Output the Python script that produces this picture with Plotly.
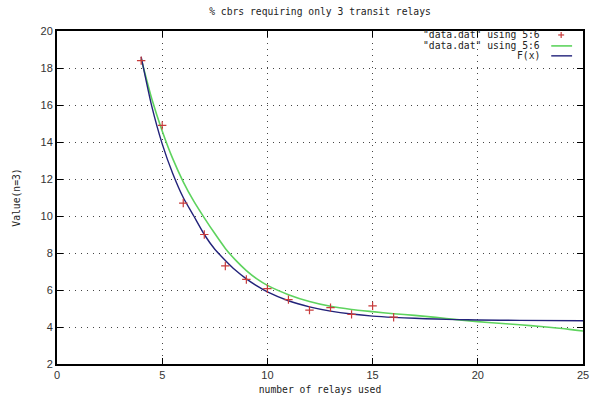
import plotly.graph_objects as go

# data points ("data.dat" using 5:6)
pts_x = [4, 5, 6, 7, 8, 9, 10, 11, 12, 13, 14, 15, 16]
pts_y = [18.4, 14.9, 10.7, 9.0, 7.3, 6.57, 6.07, 5.48, 4.91, 5.05, 4.68, 5.14, 4.53]

# smoothed curve (green)
green_x = [4, 4.5, 5, 5.5, 6, 6.5, 7, 7.5, 8, 8.5, 9, 9.5, 10, 11, 12, 13, 14, 15,
           16, 17, 18, 19, 20, 21, 22, 23, 24, 25]
green_y = [18.5, 16.35, 14.6, 13.1, 11.85, 10.8, 9.9, 9.05, 8.25, 7.6, 7.05, 6.6, 6.25,
           5.75, 5.38, 5.12, 4.95, 4.83, 4.72, 4.63, 4.52, 4.40, 4.29, 4.20, 4.12,
           4.03, 3.92, 3.78]

# fitted function F(x) (blue)
fx_x = [4, 4.5, 5, 5.5, 6, 6.5, 7, 7.5, 8, 8.5, 9, 9.5, 10, 11, 12, 13, 14, 15, 16,
        17, 18, 19, 20, 22, 25]
fx_y = [18.6, 15.95, 13.9, 12.3, 11.0, 10.0, 9.0, 8.2, 7.6, 7.05, 6.6, 6.22, 5.9,
        5.42, 5.09, 4.86, 4.70, 4.59, 4.52, 4.47, 4.43, 4.40, 4.38, 4.36, 4.34]

x_ticks = [0, 5, 10, 15, 20, 25]
y_ticks = [2, 4, 6, 8, 10, 12, 14, 16, 18, 20]

legend_labels = ['"data.dat" using 5:6', '"data.dat" using 5:6', 'F(x)']

RED = "#c83c3c"
GREEN = "#5ed35e"
BLUE = "#22227a"

fig = go.Figure()
fig.add_trace(go.Scatter(x=green_x, y=green_y, mode="lines",
                         line=dict(color=GREEN, width=1.6, shape="spline", smoothing=0.6)))
fig.add_trace(go.Scatter(x=fx_x, y=fx_y, mode="lines",
                         line=dict(color=BLUE, width=1.4, shape="spline", smoothing=0.6)))
fig.add_trace(go.Scatter(x=pts_x, y=pts_y, mode="markers",
                         marker=dict(symbol="cross-thin", size=6,
                                     line=dict(color=RED, width=1.2))))

mono = "DejaVu Sans Mono"
axis_common = dict(
    showline=True, linecolor="black", linewidth=2, mirror="allticks",
    ticks="inside", ticklen=6, tickcolor="black", tickwidth=1,
    showgrid=True, gridcolor="#444444", gridwidth=1, griddash="1px,5px",
    zeroline=False, tickfont=dict(family="Liberation Sans", size=11, color="#333333"),
)

fig.update_xaxes(range=[0, 25], tickvals=x_ticks, ticktext=[str(v) for v in x_ticks],
                 title=dict(text="number of relays used", font=dict(family=mono, size=9.7, color="#222"),
                            standoff=6),
                 **axis_common)
fig.update_yaxes(range=[2, 20], tickvals=y_ticks, ticktext=[str(v) for v in y_ticks],
                 title=dict(text="Value(n=3)", font=dict(family=mono, size=9.7, color="#222"),
                            standoff=18),
                 **axis_common)

# custom gnuplot-style legend (text right aligned, sample on the right)
legend_rows_y = [35, 46, 56]  # pixel rows from top
plot_top, plot_h = 31, 335
plot_left, plot_w = 57, 530

def py(pix):
    return 1 - (pix - plot_top) / plot_h

def px(pix):
    return (pix - plot_left) / plot_w

# blank the grid behind the key text
fig.add_shape(type="rect", xref="paper", yref="paper", layer="between",
              x0=px(426), x1=px(548), y0=py(62), y1=py(30),
              fillcolor="white", line=dict(width=0))

for i, lbl in enumerate(legend_labels):
    fig.add_annotation(xref="paper", yref="paper", x=px(545), y=py(legend_rows_y[i]),
                       text=lbl, showarrow=False, xanchor="right", yanchor="middle",
                       borderpad=0,
                       font=dict(family=mono, size=9.7, color="#222"))
# red plus sample
fig.add_shape(type="line", xref="paper", yref="paper",
              x0=px(562), x1=px(568), y0=py(legend_rows_y[0]), y1=py(legend_rows_y[0]),
              line=dict(color=RED, width=1.2))
fig.add_shape(type="line", xref="paper", yref="paper",
              x0=px(565), x1=px(565), y0=py(legend_rows_y[0] - 3), y1=py(legend_rows_y[0] + 3),
              line=dict(color=RED, width=1.2))
fig.add_shape(type="line", xref="paper", yref="paper",
              x0=px(555), x1=px(576), y0=py(legend_rows_y[1]), y1=py(legend_rows_y[1]),
              line=dict(color=GREEN, width=1.6))
fig.add_shape(type="line", xref="paper", yref="paper",
              x0=px(555), x1=px(576), y0=py(legend_rows_y[2]), y1=py(legend_rows_y[2]),
              line=dict(color=BLUE, width=1.4))

fig.update_layout(
    width=601, height=406,
    margin=dict(l=57, r=14, t=31, b=40),
    paper_bgcolor="white", plot_bgcolor="white",
    showlegend=False,
    title=dict(text="% cbrs requiring only 3 transit relays", xref="paper", x=0.5,
               xanchor="center", y=1 - 12 / 406, yanchor="middle",
               font=dict(family=mono, size=9.7, color="#222")),
)

fig.write_html("out.html", config={"displayModeBar": False},
               post_script="document.body.style.margin='0px';")
